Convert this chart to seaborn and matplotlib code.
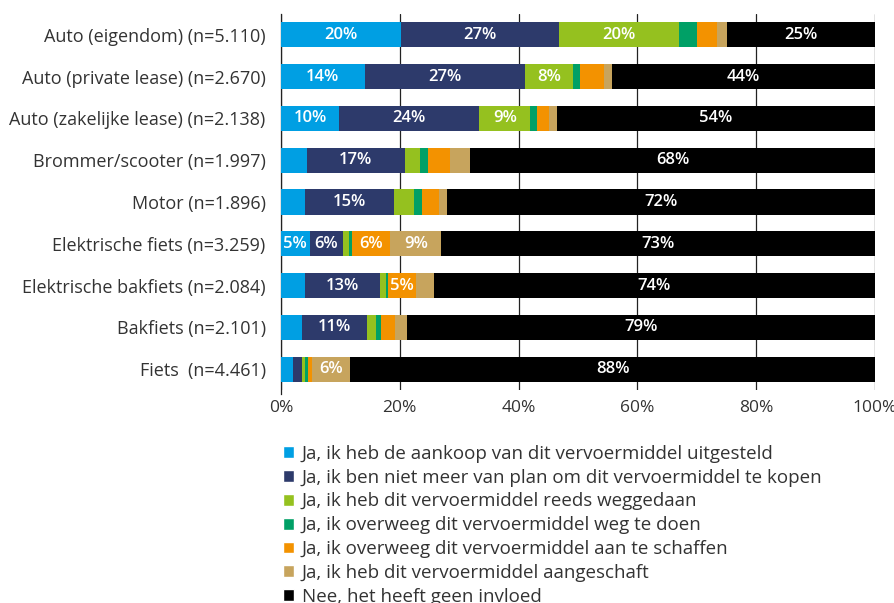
import matplotlib
matplotlib.use("Agg")
import matplotlib.pyplot as plt
import seaborn as sns
import numpy as np
import pandas as pd
from matplotlib.patches import Patch

categories = [
    "Auto (eigendom) (n=5.110)",
    "Auto (private lease) (n=2.670)",
    "Auto (zakelijke lease) (n=2.138)",
    "Brommer/scooter (n=1.997)",
    "Motor (n=1.896)",
    "Elektrische fiets (n=3.259)",
    "Elektrische bakfiets (n=2.084)",
    "Bakfiets (n=2.101)",
    "Fiets  (n=4.461)",
]

series_names = [
    "Ja, ik heb de aankoop van dit vervoermiddel uitgesteld",
    "Ja, ik ben niet meer van plan om dit vervoermiddel te kopen",
    "Ja, ik heb dit vervoermiddel reeds weggedaan",
    "Ja, ik overweeg dit vervoermiddel weg te doen",
    "Ja, ik overweeg dit vervoermiddel aan te schaffen",
    "Ja, ik heb dit vervoermiddel aangeschaft",
    "Nee, het heeft geen invloed",
]

uitgesteld = [20.2, 14.1, 9.8, 4.3, 4.0, 4.8, 4.0, 3.5, 2.0]
niet_kopen = [26.6, 27.0, 23.6, 16.6, 15.0, 5.7, 12.6, 10.9, 1.5]
weggedaan = [20.2, 8.0, 8.6, 2.5, 3.4, 0.9, 1.0, 1.6, 0.5]
weg_doen = [3.0, 1.3, 1.1, 1.3, 1.3, 0.6, 0.4, 0.8, 0.6]
aanschaffen = [3.4, 3.9, 2.1, 3.8, 2.9, 6.4, 4.8, 2.4, 0.7]
aangeschaft = [1.6, 1.5, 1.2, 3.4, 1.4, 8.6, 2.9, 2.0, 6.4]
geen_invloed = [25.0, 44.2, 53.6, 68.1, 72.0, 73.0, 74.3, 78.8, 88.3]

colors = ["#009FE3", "#2D3A6B", "#95C11F", "#00A066", "#F39200", "#C7A45D", "#000000"]

values = np.array([uitgesteld, niet_kopen, weggedaan, weg_doen,
                   aanschaffen, aangeschaft, geen_invloed])
cum = np.cumsum(values, axis=0)

sns.set_style("white")
plt.rcParams["font.family"] = ["Open Sans", "DejaVu Sans"]

fig = plt.figure(figsize=(8.94, 6.03), dpi=100)
ax = fig.add_axes([281 / 894, 1 - 390 / 603, 594 / 894, 376 / 603])

# stacked bars: draw cumulative totals from the back to the front
for i in range(len(series_names) - 1, -1, -1):
    df = pd.DataFrame({"cat": categories, "val": cum[i]})
    sns.barplot(data=df, x="val", y="cat", orient="h", color=colors[i],
                width=0.6, linewidth=0, saturation=1, ax=ax, zorder=3)

# value labels
for i in range(len(series_names)):
    for j in range(len(categories)):
        v = values[i, j]
        if v >= 4.5:
            ax.text(cum[i, j] - v / 2, j, f"{v:.0f}%", ha="center", va="center",
                    color="white", fontsize=12, fontweight="semibold", zorder=5)

ax.set_xlim(0, 100)
ax.set_ylim(len(categories) - 0.5, -0.5)
ax.set_xticks(np.arange(0, 101, 20))
ax.set_xticklabels([f"{t}%" for t in range(0, 101, 20)])
ax.set_xlabel("")
ax.set_ylabel("")
ax.tick_params(axis="both", length=0, labelsize=12.5, colors="#333333")
ax.tick_params(axis="y", labelsize=13, pad=11)
ax.tick_params(axis="x", pad=7)
ax.grid(axis="x", color="#222222", linewidth=0.9, zorder=0)
ax.set_axisbelow(True)
for s in ["top", "right", "bottom"]:
    ax.spines[s].set_visible(False)
ax.spines["left"].set_color("#222222")
ax.spines["left"].set_linewidth(0.9)
ax.spines["left"].set_bounds(len(categories) - 0.5 + 0.1, -0.5)

handles = [Patch(facecolor=c, label=n) for c, n in zip(colors, series_names)]
fig.legend(handles=handles, loc="upper left", bbox_to_anchor=(266 / 894, 1 - 428 / 603),
           frameon=False, fontsize=13.5, handlelength=0.6, handleheight=0.6,
           handletextpad=0.4, labelspacing=0.31, labelcolor="#333333")

plt.savefig("out.png", dpi=100)
plt.close()
